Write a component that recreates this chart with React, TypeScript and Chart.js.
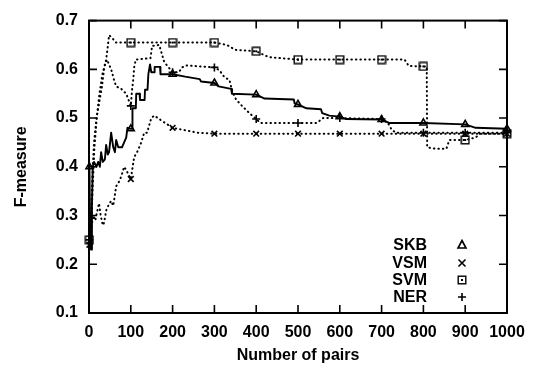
import React, { useEffect, useRef } from 'react';
import { Chart, registerables } from 'chart.js';

Chart.register(...registerables);

const X_TICKS = [0, 100, 200, 300, 400, 500, 600, 700, 800, 900, 1000];
const Y_TICKS = [0.1, 0.2, 0.3, 0.4, 0.5, 0.6, 0.7];
const MARK_X = [1, 100, 200, 300, 400, 500, 600, 700, 800, 900, 1000];
const SERIES_NAMES = ['SKB', 'VSM', 'SVM', 'NER'];

const SKB: [number, number][] = [
  [1, 0.4], [3, 0.25], [5, 0.23], [7, 0.32], [9, 0.4], [12, 0.41], [18, 0.4], [22, 0.41], [26, 0.4],
  [29, 0.43], [33, 0.41], [38, 0.415], [41, 0.445], [45, 0.425], [48, 0.43], [53, 0.47], [58, 0.44],
  [62, 0.43], [65, 0.455], [70, 0.44], [79, 0.44], [84, 0.45], [89, 0.46], [92, 0.48], [100, 0.478],
  [103, 0.478], [104, 0.52], [112, 0.52], [113, 0.55], [121, 0.55], [122, 0.537], [133, 0.537],
  [134, 0.558], [140, 0.558], [142, 0.59], [146, 0.61], [149, 0.594], [156, 0.594], [157, 0.605],
  [170, 0.605], [171, 0.59], [200, 0.59], [230, 0.585], [265, 0.58], [268, 0.575], [300, 0.572],
  [310, 0.565], [340, 0.56], [342, 0.55], [400, 0.548], [420, 0.54], [490, 0.538], [492, 0.53],
  [500, 0.528], [520, 0.52], [555, 0.518], [558, 0.51], [575, 0.505], [600, 0.503], [615, 0.498],
  [700, 0.497], [718, 0.49], [800, 0.49], [900, 0.487], [925, 0.48], [1000, 0.478],
];

const VSM: [number, number][] = [
  [1, 0.24], [5, 0.27], [10, 0.3], [15, 0.29], [20, 0.31], [24, 0.325], [28, 0.3], [33, 0.28],
  [36, 0.285], [41, 0.31], [46, 0.32], [53, 0.33], [58, 0.32], [65, 0.36], [72, 0.37], [77, 0.38],
  [84, 0.4], [88, 0.395], [94, 0.385], [100, 0.375], [108, 0.42], [115, 0.43], [125, 0.45],
  [132, 0.47], [139, 0.47], [149, 0.5], [156, 0.505], [165, 0.5], [173, 0.495], [200, 0.48],
  [230, 0.475], [260, 0.47], [300, 0.468], [400, 0.468], [500, 0.468], [600, 0.468], [700, 0.468],
  [800, 0.468], [900, 0.468], [1000, 0.468],
];

const SVM: [number, number][] = [
  [1, 0.25], [5, 0.3], [8, 0.38], [12, 0.45], [18, 0.5], [24, 0.53], [31, 0.565], [36, 0.6],
  [41, 0.62], [44, 0.64], [48, 0.67], [55, 0.665], [64, 0.655], [100, 0.655], [200, 0.655],
  [300, 0.655], [330, 0.65], [350, 0.64], [400, 0.637], [430, 0.625], [500, 0.62], [600, 0.62],
  [700, 0.62], [755, 0.62], [765, 0.607], [800, 0.606], [808, 0.606], [809, 0.44], [830, 0.437],
  [855, 0.437], [862, 0.455], [900, 0.455], [925, 0.46], [935, 0.468], [1000, 0.468],
];

const NER: [number, number][] = [
  [1, 0.25], [5, 0.28], [9, 0.36], [13, 0.44], [19, 0.505], [25, 0.55], [32, 0.59], [38, 0.61],
  [43, 0.62], [48, 0.61], [53, 0.6], [60, 0.578], [65, 0.565], [77, 0.56], [89, 0.55], [100, 0.525],
  [103, 0.558], [106, 0.58], [108, 0.604], [112, 0.62], [147, 0.623], [151, 0.648], [168, 0.65],
  [180, 0.615], [200, 0.594], [215, 0.594], [223, 0.604], [232, 0.608], [300, 0.604], [312, 0.598],
  [324, 0.584], [336, 0.578], [343, 0.554], [352, 0.538], [367, 0.524], [384, 0.51], [400, 0.498],
  [410, 0.49], [500, 0.49], [545, 0.49], [560, 0.5], [600, 0.5], [700, 0.498], [715, 0.49],
  [725, 0.475], [735, 0.47], [800, 0.47], [900, 0.47], [1000, 0.47],
];

const FONT = '"Liberation Sans", Arial, sans-serif';

function makeBoxDot(): HTMLCanvasElement {
  const c = document.createElement('canvas');
  c.width = 10;
  c.height = 10;
  const g = c.getContext('2d')!;
  g.strokeStyle = '#000';
  g.lineWidth = 1.4;
  g.strokeRect(1.2, 1.2, 7.6, 7.6);
  g.fillStyle = '#000';
  g.fillRect(4, 4, 2, 2);
  return c;
}

function drawMarker(ctx: CanvasRenderingContext2D, kind: string, x: number, y: number, box: HTMLCanvasElement) {
  ctx.save();
  ctx.strokeStyle = '#000';
  ctx.lineWidth = 1.6;
  ctx.setLineDash([]);
  ctx.beginPath();
  if (kind === 'triangle') {
    ctx.moveTo(x, y - 4.5);
    ctx.lineTo(x + 4, y + 3);
    ctx.lineTo(x - 4, y + 3);
    ctx.closePath();
    ctx.stroke();
  } else if (kind === 'crossRot') {
    ctx.moveTo(x - 3.5, y - 3.5);
    ctx.lineTo(x + 3.5, y + 3.5);
    ctx.moveTo(x + 3.5, y - 3.5);
    ctx.lineTo(x - 3.5, y + 3.5);
    ctx.stroke();
  } else if (kind === 'box') {
    ctx.drawImage(box, x - 5, y - 5);
  } else {
    ctx.moveTo(x - 4, y);
    ctx.lineTo(x + 4, y);
    ctx.moveTo(x, y - 4);
    ctx.lineTo(x, y + 4);
    ctx.stroke();
  }
  ctx.restore();
}

export default function App() {
  const ref = useRef<HTMLCanvasElement | null>(null);

  useEffect(() => {
    document.body.style.margin = '0';
    const canvas = ref.current;
    if (!canvas) return;
    const box = makeBoxDot();
    const markSet = new Set(MARK_X);
    const kinds = ['triangle', 'crossRot', 'box', 'cross'];

    const mk = (label: string, arr: [number, number][], dotted: boolean, style: any) => ({
      label,
      data: arr.map(([x, y]) => ({ x, y })),
      borderColor: '#000',
      borderWidth: dotted ? 2 : 1.9,
      borderDash: dotted ? [0.5, 4] : [],
      borderCapStyle: 'round' as const,
      borderJoinStyle: 'round' as const,
      tension: 0,
      fill: false,
      clip: false as const,
      pointStyle: style,
      pointRadius: (c: any) => (c.raw && markSet.has(c.raw.x) ? 4 : 0),
      pointBorderColor: '#000',
      pointBackgroundColor: 'rgba(0,0,0,0)',
      pointBorderWidth: 1.6,
      pointHoverRadius: 0,
    });

    const framePlugin = {
      id: 'frame',
      afterDatasetsDraw(chart: any) {
        const { ctx, chartArea: a, scales } = chart;
        const xs = scales.x;
        const ys = scales.y;
        ctx.save();
        ctx.setLineDash([]);
        ctx.strokeStyle = '#000';
        ctx.lineWidth = 2;
        ctx.strokeRect(a.left, a.top, a.right - a.left, a.bottom - a.top);
        ctx.lineWidth = 1.6;
        ctx.beginPath();
        const L = 8;
        X_TICKS.forEach((v) => {
          const px = xs.getPixelForValue(v);
          ctx.moveTo(px, a.bottom);
          ctx.lineTo(px, a.bottom - L);
          ctx.moveTo(px, a.top);
          ctx.lineTo(px, a.top + L);
        });
        Y_TICKS.forEach((v) => {
          const py = ys.getPixelForValue(v);
          ctx.moveTo(a.left, py);
          ctx.lineTo(a.left + L, py);
          ctx.moveTo(a.right, py);
          ctx.lineTo(a.right - L, py);
        });
        ctx.stroke();

        // key
        ctx.fillStyle = '#000';
        ctx.font = `bold 16px ${FONT}`;
        ctx.textAlign = 'right';
        ctx.textBaseline = 'middle';
        const rows = [245, 263, 280, 297];
        SERIES_NAMES.forEach((name, i) => {
          ctx.fillText(name, 427, rows[i] + 1);
          drawMarker(ctx, kinds[i], 462, rows[i], box);
        });
        ctx.restore();
      },
    };

    const chart = new Chart(canvas, {
      type: 'line',
      data: {
        datasets: [
          mk('SKB', SKB, false, 'triangle'),
          mk('VSM', VSM, true, 'crossRot'),
          mk('SVM', SVM, true, box),
          mk('NER', NER, true, 'cross'),
        ],
      },
      options: {
        animation: false,
        responsive: false,
        devicePixelRatio: 1,
        layout: { padding: { top: 11, right: 34, left: 0, bottom: 0 } },
        plugins: { legend: { display: false }, tooltip: { enabled: false } },
        elements: { point: { radius: 0 } },
        scales: {
          x: {
            type: 'linear',
            min: 0,
            max: 1000,
            grid: { display: false, drawTicks: false },
            border: { display: false },
            afterBuildTicks: (s: any) => {
              s.ticks = X_TICKS.map((v) => ({ value: v }));
            },
            afterFit: (s: any) => {
              s.height = 54;
            },
            ticks: {
              color: '#000',
              padding: 10,
              maxRotation: 0,
              autoSkip: false,
              font: { family: FONT, size: 16, weight: 'bold' },
              callback: (v: any) => String(v),
            },
            title: {
              display: true,
              text: 'Number of pairs',
              color: '#000',
              padding: { top: 0, bottom: 2 },
              font: { family: FONT, size: 16, weight: 'bold' },
            },
          },
          y: {
            type: 'linear',
            min: 0.1,
            max: 0.7,
            grid: { display: false, drawTicks: false },
            border: { display: false },
            afterBuildTicks: (s: any) => {
              s.ticks = Y_TICKS.map((v) => ({ value: v }));
            },
            afterFit: (s: any) => {
              s.width = 89;
            },
            ticks: {
              color: '#000',
              padding: 11,
              autoSkip: false,
              font: { family: FONT, size: 16, weight: 'bold' },
              callback: (v: any) => Number(v).toFixed(1),
            },
            title: {
              display: true,
              text: 'F-measure',
              color: '#000',
              padding: { top: 12, bottom: 0 },
              font: { family: FONT, size: 16, weight: 'bold' },
            },
          },
        },
      },
      plugins: [framePlugin],
    });

    return () => chart.destroy();
  }, []);

  return (
    <div style={{ position: 'absolute', left: 0, top: 0, width: 541, height: 367 }}>
      <canvas ref={ref} width={541} height={367} style={{ width: 541, height: 367 }} />
    </div>
  );
}
